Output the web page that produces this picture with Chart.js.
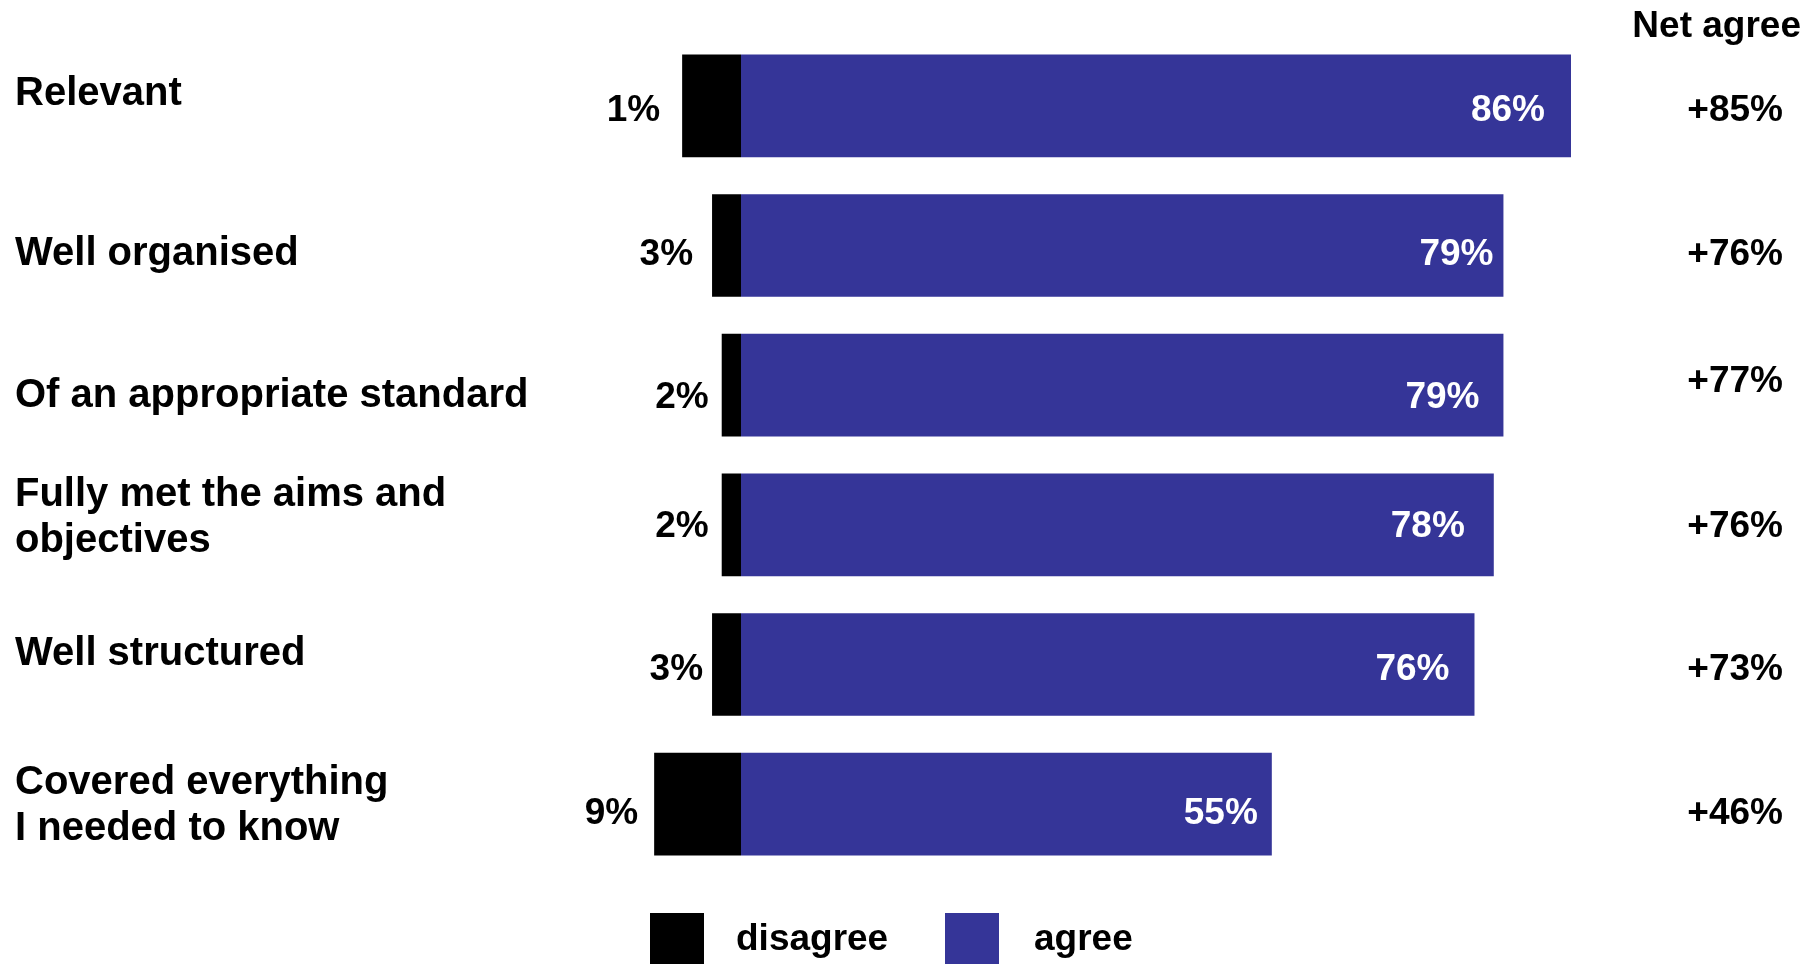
<!DOCTYPE html>
<html>
<head>
<meta charset="utf-8">
<script src="https://cdn.jsdelivr.net/npm/chart.js@4"></script>
<style>
  html, body { margin: 0; padding: 0; background: #fff; }
  #wrap { width: 1816px; height: 964px; position: relative; }
</style>
</head>
<body>
<div id="wrap"><canvas id="surveyChart"></canvas></div>
<script>
const categories = [
    'Relevant',
    'Well organised',
    'Of an appropriate standard',
    ['Fully met the aims and', 'objectives'],
    'Well structured',
    ['Covered everything', 'I needed to know']
]
const agree = [86, 79, 79, 78, 76, 55]
// disagree as labelled
const disagree = [1, 3, 2, 2, 3, 9]
// disagree bar length as drawn (first bar is drawn wider than its label in the original)
const disagreeBar = [6.1, 3, 2, 2, 3, 9]
const netAgree = [85, 76, 77, 76, 73, 46]

const BLUE = '#353598'
// small per-row text placement tweaks (px)
const labelNudge = [-12, 8, 11, -7, -11, 2]
const valueNudge = [5, 9, 13, 2, 5, 10]
const netNudge = [5, 9, -3, 2, 5, 10]
const agreeGap = [26, 10, 24, 29, 25, 14]
const disagreeGap = [22, 19, 13, 13, 9, 16]

const textPlugin = {
    id: 'textPlugin',
    afterDatasetsDraw(chart) {
        const ctx = chart.ctx
        const x = chart.scales.x
        const y = chart.scales.y
        ctx.save()
        ctx.textBaseline = 'middle'

        // category labels
        ctx.fillStyle = '#000'
        ctx.font = 'bold 40px "Liberation Sans", Arial, sans-serif'
        ctx.textAlign = 'left'
        categories.forEach((c, i) => {
            const cy = y.getPixelForValue(i) + labelNudge[i]
            const lines = Array.isArray(c) ? c : [c]
            lines.forEach((line, j) => {
                ctx.fillText(line, 15, cy + (j - (lines.length - 1) / 2) * 46)
            })
        })

        ctx.font = 'bold 37px "Liberation Sans", Arial, sans-serif'
        categories.forEach((c, i) => {
            const cy = y.getPixelForValue(i) + valueNudge[i]
            // disagree
            ctx.textAlign = 'right'
            ctx.fillStyle = '#000'
            ctx.fillText(disagree[i] + '%', x.getPixelForValue(-disagreeBar[i]) - disagreeGap[i], cy)
            // agree
            ctx.fillStyle = '#fff'
            ctx.fillText(agree[i] + '%', x.getPixelForValue(agree[i]) - agreeGap[i], cy)
            // net agree
            ctx.fillStyle = '#000'
            ctx.fillText('+' + netAgree[i] + '%', 1783, y.getPixelForValue(i) + netNudge[i])
        })

        ctx.textAlign = 'right'
        ctx.fillText('Net agree', 1801, 27)

        // legend
        const items = [[650, 736], [945, 1034]]
        chart.data.datasets.forEach((ds, i) => {
            ctx.fillStyle = ds.backgroundColor
            ctx.fillRect(items[i][0], 913, 54, 60)
            ctx.fillStyle = '#000'
            ctx.textAlign = 'left'
            ctx.fillText(ds.label, items[i][1], 940)
        })
        ctx.restore()
    }
}

const ctx = document.getElementById('surveyChart').getContext('2d')
new Chart(ctx, {
    type: 'bar',
    data: {
        labels: categories,
        datasets: [
            { label: 'disagree', data: disagreeBar.map(v => -v), backgroundColor: '#000000' },
            { label: 'agree', data: agree, backgroundColor: BLUE }
        ]
    },
    options: {
        indexAxis: 'y',
        responsive: true, maintainAspectRatio: false,
        animation: false,
        layout: { padding: { left: 644.5, right: 206.4, top: 36, bottom: 90 } },
        datasets: { bar: { categoryPercentage: 1, barPercentage: 0.735, borderWidth: 0 } },
        scales: {
            x: { stacked: true, min: -10, max: 90, display: false },
            y: { stacked: true, display: false }
        },
        plugins: { legend: { display: false }, tooltip: { enabled: false } }
    },
    plugins: [textPlugin]
})
</script>
</body>
</html>
